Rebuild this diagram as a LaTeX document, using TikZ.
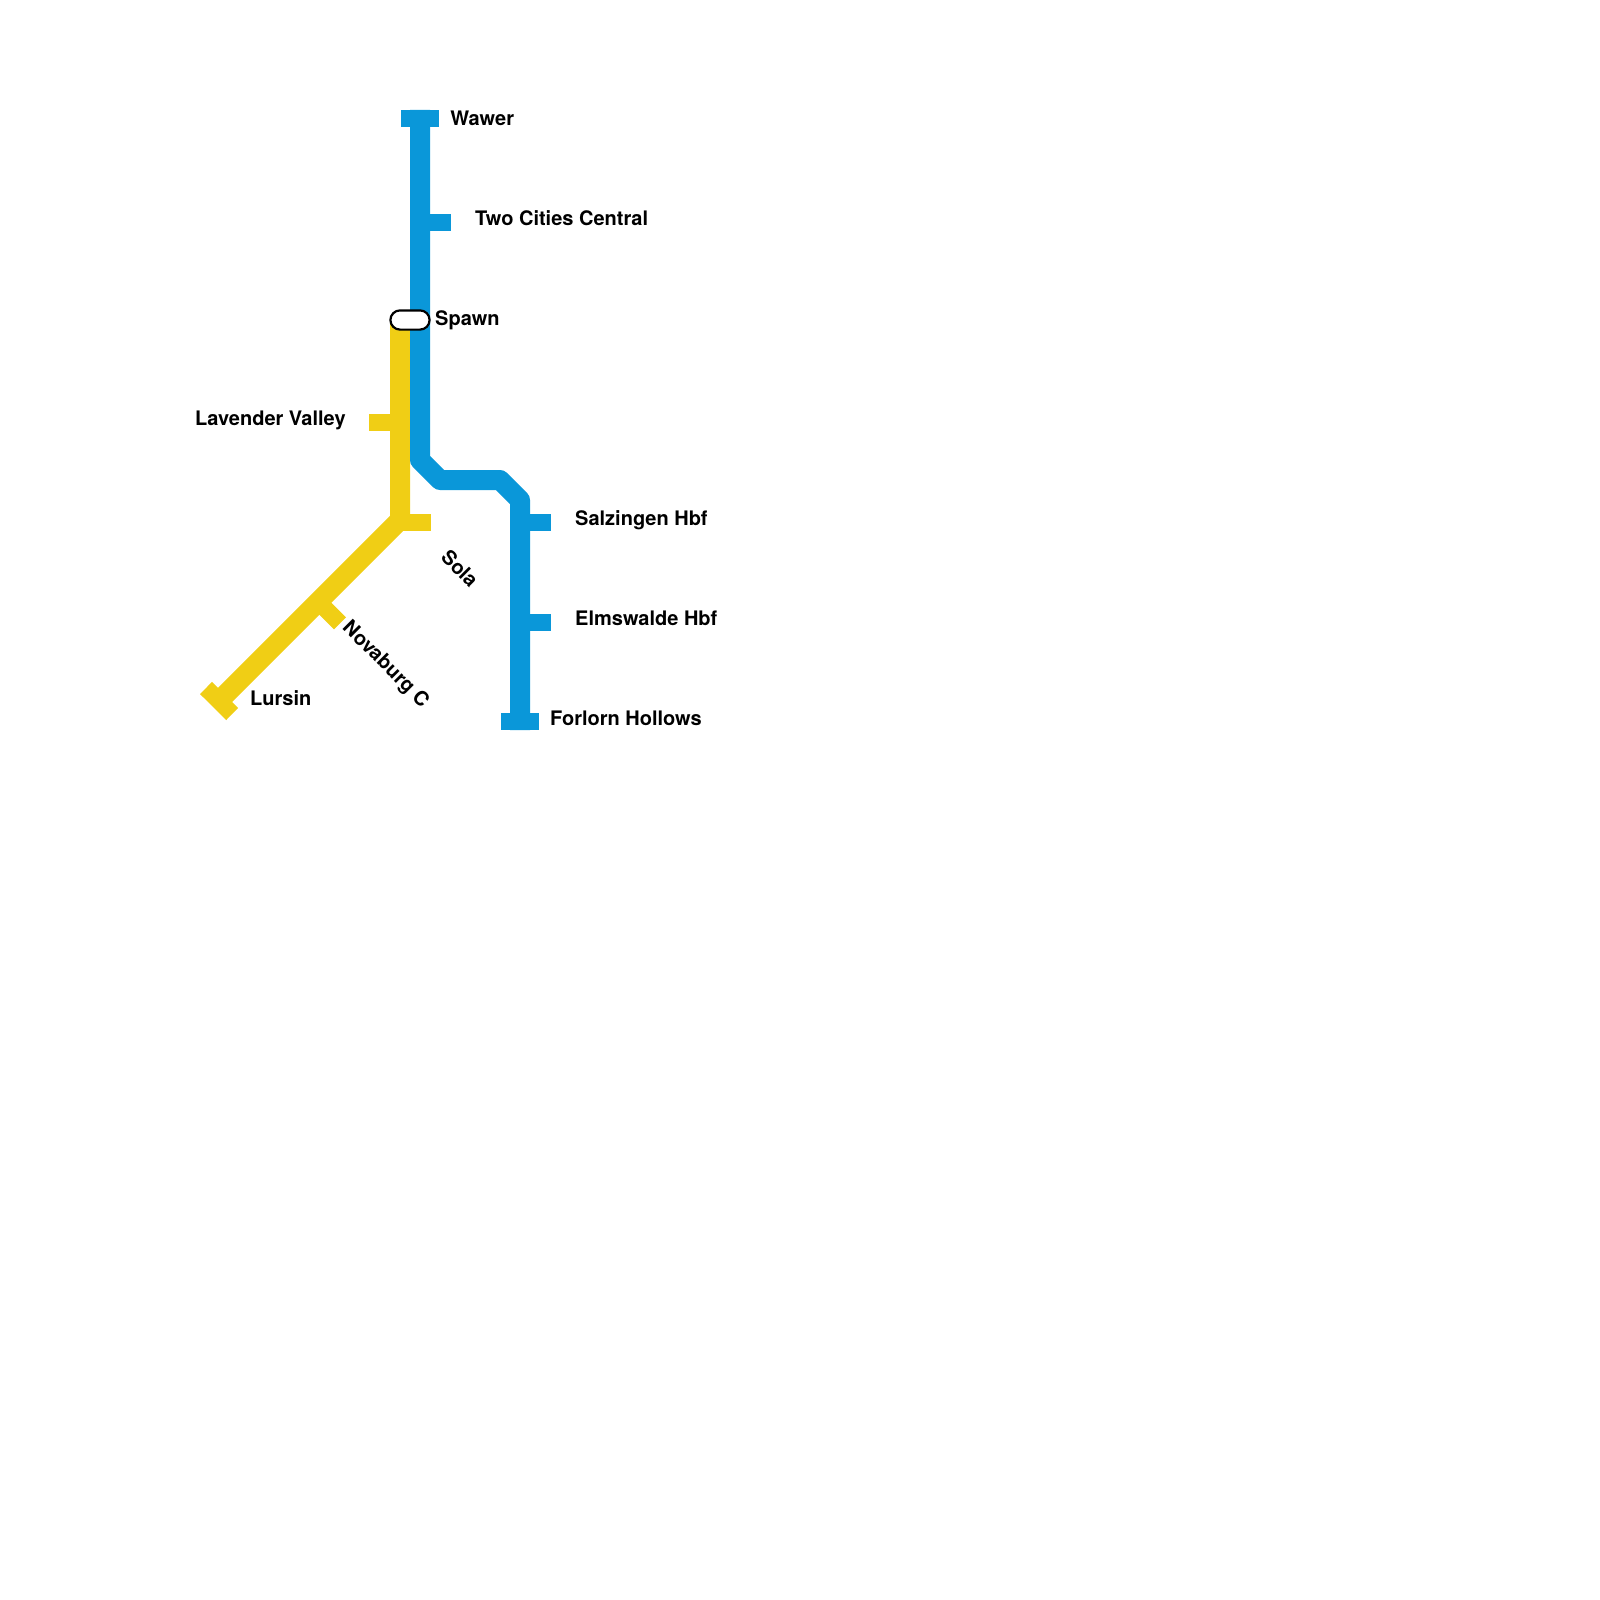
\documentclass[tikz,border=0pt]{standalone}
\usepackage{fontspec}
\setmainfont{TeX Gyre Heros}
\definecolor{lineblue}{HTML}{0A97D9}
\definecolor{lineyellow}{HTML}{F0CE15}
\tikzset{
  trunk/.style={line width=20pt,line join=round},
  tick/.style={line width=17pt},
  lab/.style={font=\fontsize{20}{24}\selectfont\bfseries,text=black,inner sep=0pt,anchor=base west},
  interchange/.style={draw=black,line width=2.2pt,fill=white,rounded corners=9.6pt,minimum width=39.2pt,minimum height=19.2pt,inner sep=0pt}
}
\begin{document}
\begin{tikzpicture}[x=1pt,y=-1pt]
\useasboundingbox (0,0) rectangle (1600,1600);
% blue line
\coordinate (bTop) at (420,110);
\coordinate (bB1) at (420,460);
\coordinate (bB2) at (440,480);
\coordinate (bB3) at (500,480);
\coordinate (bB4) at (520,500);
\coordinate (bEnd) at (520,730);
% yellow line
\coordinate (ySpawn) at (400,320);
\coordinate (yJ) at (400,520);
\coordinate (yEnd) at (220,700);
% tick ends
\coordinate (wA) at (401.3,118.5); \coordinate (wB) at (438.7,118.5);
\coordinate (tA) at (420,222.5); \coordinate (tB) at (451,222.5);
\coordinate (sA) at (520,522.5); \coordinate (sB) at (551,522.5);
\coordinate (eA) at (520,622.5); \coordinate (eB) at (551,622.5);
\coordinate (fA) at (501.3,721.5); \coordinate (fB) at (538.7,721.5);
\coordinate (lA) at (369,422.5); \coordinate (lB) at (400,422.5);
\coordinate (oA) at (400,522.5); \coordinate (oB) at (431,522.5);
\coordinate (nA) at (318.3,601.7); \coordinate (nB) at (340,623.3);
\coordinate (uA) at (206,688); \coordinate (uB) at (232.2,714);
% yellow
\draw[trunk,lineyellow] (ySpawn) -- (yJ) -- (yEnd);
\draw[tick,lineyellow] (lA) -- (lB);
\draw[tick,lineyellow] (oA) -- (oB);
\draw[tick,lineyellow] (nA) -- (nB);
\draw[tick,lineyellow] (uA) -- (uB);
% blue
\draw[trunk,lineblue] (bTop) -- (bB1) -- (bB2) -- (bB3) -- (bB4) -- (bEnd);
\draw[tick,lineblue] (wA) -- (wB);
\draw[tick,lineblue] (tA) -- (tB);
\draw[tick,lineblue] (sA) -- (sB);
\draw[tick,lineblue] (eA) -- (eB);
\draw[tick,lineblue] (fA) -- (fB);
% interchange
\node[interchange] (spawn) at (410,320) {};
% labels
\node[lab] (lwawer) at (450.2,125) {Wawer};
\node[lab] (ltwo) at (475,225) {Two Cities Central};
\node[lab] (lspawn) at (435,325) {Spawn};
\node[lab] (llav) at (195,425) {Lavender Valley};
\node[lab] (lsal) at (575,525) {Salzingen Hbf};
\node[lab] (lelm) at (575,625) {Elmswalde Hbf};
\node[lab] (lfor) at (550,725) {Forlorn Hollows};
\node[lab] (llur) at (250,705) {Lursin};
\node[lab,rotate=-45] (lsola) at (439.7,558.5) {Sola};
\node[lab,rotate=-45] (lnov) at (341.5,628.5) {Novaburg C};
\end{tikzpicture}
\end{document}
